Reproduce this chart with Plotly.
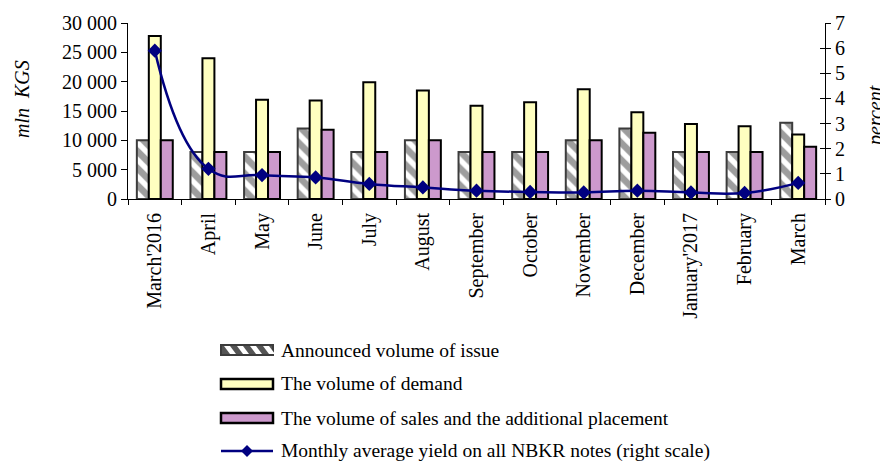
import plotly.graph_objects as go

# Monthly NBKR notes auctions, March 2016 - March 2017
months = ["March'2016", "April", "May", "June", "July", "August", "September",
          "October", "November", "December", "January'2017", "February", "March"]
announced = [10000, 8000, 8000, 12000, 8000, 10000, 8000, 8000, 10000, 12000, 8000, 8000, 13000]
demand = [27800, 24000, 16900, 16800, 19900, 18500, 15900, 16500, 18700, 14800, 12800, 12400, 11000]
sales = [10000, 8000, 8000, 11800, 8000, 10000, 8000, 8000, 10000, 11300, 8000, 8000, 8900]
yield_pct = [5.9, 1.2, 0.95, 0.86, 0.6, 0.46, 0.33, 0.28, 0.26, 0.33, 0.26, 0.24, 0.64]

names = ["Announced volume of issue", "The volume of demand",
         "The volume of sales and the additional placement",
         "Monthly average yield on all NBKR notes (right scale)"]

FONT = "Liberation Serif"
NAVY = "#000080"
YELLOW = "#FFFFC0"
MAUVE = "#CC99CC"
HATCH = "#3C3C3C"

fig = go.Figure()
fig.add_trace(go.Bar(
    x=months, y=announced, name=names[0],
    marker=dict(color="white", line=dict(color=HATCH, width=2),
                pattern=dict(shape="\\", fgcolor=HATCH, bgcolor="white",
                             size=12, solidity=0.55)),
))
fig.add_trace(go.Bar(
    x=months, y=demand, name=names[1],
    marker=dict(color=YELLOW, line=dict(color="black", width=2)),
))
fig.add_trace(go.Bar(
    x=months, y=sales, name=names[2],
    marker=dict(color=MAUVE, line=dict(color="black", width=2)),
))
fig.add_trace(go.Scatter(
    x=months, y=yield_pct, name=names[3], yaxis="y2",
    mode="lines+markers",
    line=dict(color=NAVY, width=2.5, shape="spline", smoothing=1.3),
    marker=dict(symbol="diamond", size=11, color=NAVY),
))

# plot-area pixel bounds, used to place the hand-drawn legend
L, R, T, B = 128, 825, 23, 199


def px(x):
    return (x - L) / (R - L)


def py(y):
    return (B - y) / (B - T)


shapes = []
annotations = []

rows_y = [350, 384, 418, 451]
sx0, sx1 = 221, 273

# legend swatch: hatched rectangle
shapes.append(dict(type="rect", xref="paper", yref="paper",
                   x0=px(sx0), x1=px(sx1), y0=py(rows_y[0] + 5), y1=py(rows_y[0] - 5),
                   fillcolor="#555555", line=dict(color=HATCH, width=2)))
for k in range(4):
    a = sx0 + 3 + k * 13
    path = "M {} {} L {} {} L {} {} L {} {} Z".format(
        px(a), py(rows_y[0] - 4), px(a + 6), py(rows_y[0] - 4),
        px(a + 12), py(rows_y[0] + 4), px(a + 6), py(rows_y[0] + 4))
    shapes.append(dict(type="path", xref="paper", yref="paper", path=path,
                       fillcolor="white", line=dict(width=0)))

# legend swatches: solid rectangles
for ry, col in [(rows_y[1], YELLOW), (rows_y[2], MAUVE)]:
    shapes.append(dict(type="rect", xref="paper", yref="paper",
                       x0=px(sx0), x1=px(sx1), y0=py(ry + 5), y1=py(ry - 5),
                       fillcolor=col, line=dict(color="black", width=2.5)))

# legend swatch: line with diamond
ry = rows_y[3]
shapes.append(dict(type="line", xref="paper", yref="paper",
                   x0=px(sx0), x1=px(sx1), y0=py(ry), y1=py(ry),
                   line=dict(color=NAVY, width=2.5)))
cx = (sx0 + sx1) / 2
shapes.append(dict(type="path", xref="paper", yref="paper",
                   path="M {} {} L {} {} L {} {} L {} {} Z".format(
                       px(cx - 6), py(ry), px(cx), py(ry - 6),
                       px(cx + 6), py(ry), px(cx), py(ry + 6)),
                   fillcolor=NAVY, line=dict(width=0)))

for ry, label in zip(rows_y, names):
    annotations.append(dict(text=label, xref="paper", yref="paper",
                            x=px(279), y=py(ry), xanchor="left", yanchor="middle",
                            showarrow=False, font=dict(family=FONT, size=19.5, color="black")))

# axis titles
annotations.append(dict(text="<i>mln  KGS</i>", xref="paper", yref="paper",
                        x=px(22), y=py(99), textangle=-90, showarrow=False,
                        xanchor="center", yanchor="middle",
                        font=dict(family=FONT, size=20, color="black")))
annotations.append(dict(text="<i>percent</i>", xref="paper", yref="paper",
                        x=px(876), y=py(116), textangle=-90, showarrow=False,
                        xanchor="center", yanchor="middle",
                        font=dict(family=FONT, size=20, color="black")))

axis_common = dict(showline=True, linecolor="black", linewidth=1, tickcolor="black",
                   showgrid=False, zeroline=False, automargin=False,
                   tickfont=dict(family=FONT, size=20))

fig.update_layout(
    width=880, height=461,
    margin=dict(l=L, r=880 - R, t=T, b=461 - B, pad=0, autoexpand=False),
    paper_bgcolor="white", plot_bgcolor="white",
    barmode="group", bargap=0.33, bargroupgap=0,
    showlegend=False,
    separators=". ",
    font=dict(family=FONT, size=20, color="black"),
    xaxis=dict(axis_common, range=[-0.5, len(months) - 0.5],
               ticks="outside", ticklen=5, tickson="boundaries",
               tickangle=-90, ticklabelstandoff=5),
    yaxis=dict(axis_common, range=[0, 30000], dtick=5000, tickformat=",d",
               ticks="outside", ticklen=6),
    yaxis2=dict(axis_common, range=[0, 7], dtick=1, overlaying="y", side="right",
                ticks="outside", ticklen=5),
    # inner half of the crossing tick marks on the right scale
    yaxis3=dict(axis_common, range=[0, 7], dtick=1, overlaying="y", side="right",
                ticks="inside", ticklen=5, showticklabels=False),
    shapes=shapes,
    annotations=annotations,
)

# invisible helper so the inner-tick axis is drawn
fig.add_trace(go.Scatter(x=[months[0]], y=[0], yaxis="y3", mode="markers",
                         marker=dict(opacity=0), hoverinfo="skip", showlegend=False))

fig.write_html("out.html")
